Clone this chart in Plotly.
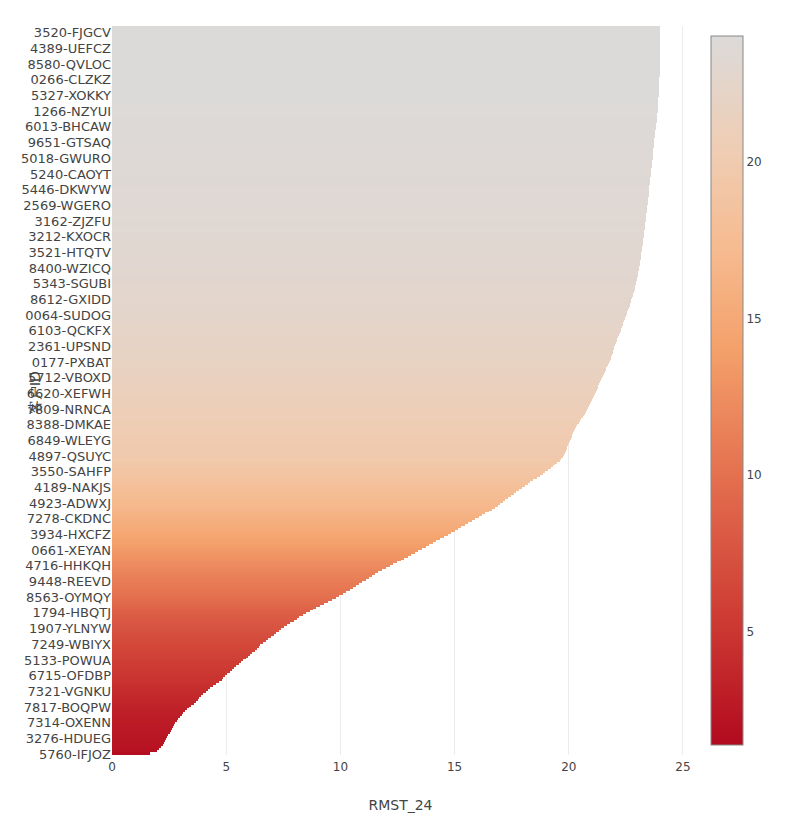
import plotly.graph_objects as go

# RMST_24 values, sorted, bottom bar first (read from the silhouette)
rmst = [
    1.65, 1.65, 1.95, 2.05, 2.15, 2.22, 2.28, 2.33, 2.37, 2.4,
    2.46, 2.52, 2.57, 2.62, 2.67, 2.72, 2.78, 2.84, 2.9, 2.97,
    3.05, 3.12, 3.2, 3.27, 3.35, 3.47, 3.6, 3.67, 3.75, 3.82,
    3.9, 4.0, 4.1, 4.2, 4.3, 4.42, 4.55, 4.68, 4.8, 4.88,
    4.95, 5.05, 5.15, 5.25, 5.35, 5.45, 5.55, 5.65, 5.75, 5.85,
    5.95, 6.05, 6.15, 6.25, 6.35, 6.42, 6.5, 6.62, 6.75, 6.85,
    6.95, 7.08, 7.2, 7.3, 7.4, 7.52, 7.65, 7.8, 7.95, 8.08,
    8.2, 8.35, 8.5, 8.65, 8.8, 8.95, 9.1, 9.28, 9.45, 9.62,
    9.8, 9.95, 10.1, 10.25, 10.4, 10.55, 10.7, 10.82, 10.95, 11.1,
    11.25, 11.38, 11.5, 11.65, 11.8, 11.98, 12.15, 12.32, 12.5, 12.65,
    12.8, 12.95, 13.1, 13.25, 13.4, 13.58, 13.75, 13.9, 14.05, 14.2,
    14.35, 14.52, 14.7, 14.85, 15.0, 15.15, 15.3, 15.45, 15.6, 15.75,
    15.9, 16.05, 16.2, 16.35, 16.5, 16.62, 16.75, 16.88, 17.0, 17.1,
    17.2, 17.32, 17.45, 17.58, 17.7, 17.82, 17.95, 18.08, 18.2, 18.32,
    18.45, 18.6, 18.75, 18.85, 18.95, 19.08, 19.2, 19.3, 19.4, 19.5,
    19.6, 19.68, 19.75, 19.79, 19.83, 19.87, 19.9, 19.94, 19.97, 20.01,
    20.05, 20.08, 20.12, 20.16, 20.2, 20.24, 20.28, 20.33, 20.38, 20.44,
    20.5, 20.55, 20.6, 20.65, 20.7, 20.75, 20.8, 20.84, 20.88, 20.92,
    20.96, 21.0, 21.05, 21.09, 21.13, 21.17, 21.22, 21.26, 21.3, 21.34,
    21.38, 21.41, 21.45, 21.49, 21.53, 21.57, 21.61, 21.64, 21.68, 21.72,
    21.76, 21.8, 21.83, 21.86, 21.89, 21.92, 21.95, 21.97, 22.0, 22.03,
    22.06, 22.1, 22.13, 22.17, 22.2, 22.24, 22.27, 22.3, 22.33, 22.36,
    22.39, 22.42, 22.45, 22.48, 22.51, 22.54, 22.57, 22.6, 22.63, 22.66,
    22.68, 22.71, 22.74, 22.77, 22.8, 22.83, 22.85, 22.88, 22.9, 22.92,
    22.94, 22.96, 22.98, 23.0, 23.01, 23.03, 23.04, 23.06, 23.07, 23.09,
    23.1, 23.12, 23.13, 23.14, 23.15, 23.17, 23.18, 23.19, 23.2, 23.22,
    23.23, 23.24, 23.25, 23.27, 23.28, 23.29, 23.3, 23.31, 23.32, 23.33,
    23.34, 23.35, 23.36, 23.37, 23.38, 23.39, 23.4, 23.41, 23.42, 23.43,
    23.44, 23.45, 23.46, 23.47, 23.48, 23.49, 23.5, 23.5, 23.51, 23.52,
    23.53, 23.54, 23.55, 23.56, 23.57, 23.58, 23.59, 23.6, 23.61, 23.62,
    23.63, 23.64, 23.65, 23.66, 23.67, 23.67, 23.68, 23.69, 23.7, 23.7,
    23.71, 23.72, 23.73, 23.74, 23.75, 23.76, 23.77, 23.78, 23.79, 23.8,
    23.81, 23.82, 23.83, 23.84, 23.85, 23.86, 23.87, 23.88, 23.89, 23.89,
    23.9, 23.9, 23.91, 23.91, 23.92, 23.92, 23.93, 23.93, 23.94, 23.94,
    23.95, 23.95, 23.96, 23.96, 23.97, 23.97, 23.98, 23.98, 23.98, 23.98,
    23.99, 23.99, 24.0, 24.0, 24.0, 24.0, 24.0, 24.0, 24.0, 24.0,
    24.0, 24.0, 24.0, 24.0, 24.0, 24.0, 24.0, 24.0, 24.0, 24.0,
    24.0, 24.0,
]

# visible customer-ID tick labels, bottom to top
tick_labels = [
    "5760-IFJOZ", "3276-HDUEG", "7314-OXENN", "7817-BOQPW", "7321-VGNKU",
    "6715-OFDBP", "5133-POWUA", "7249-WBIYX", "1907-YLNYW", "1794-HBQTJ",
    "8563-OYMQY", "9448-REEVD", "4716-HHKQH", "0661-XEYAN", "3934-HXCFZ",
    "7278-CKDNC", "4923-ADWXJ", "4189-NAKJS", "3550-SAHFP", "4897-QSUYC",
    "6849-WLEYG", "8388-DMKAE", "7809-NRNCA", "6620-XEFWH", "5712-VBOXD",
    "0177-PXBAT", "2361-UPSND", "6103-QCKFX", "0064-SUDOG", "8612-GXIDD",
    "5343-SGUBI", "8400-WZICQ", "3521-HTQTV", "3212-KXOCR", "3162-ZJZFU",
    "2569-WGERO", "5446-DKWYW", "5240-CAOYT", "5018-GWURO", "9651-GTSAQ",
    "6013-BHCAW", "1266-NZYUI", "5327-XOKKY", "0266-CLZKZ", "8580-QVLOC",
    "4389-UEFCZ", "3520-FJGCV",
]
tick_step = 8

x_title = "RMST_24"
y_title = "客户ID"

n = len(rmst)
positions = list(range(n))
tickvals = [i * tick_step for i in range(len(tick_labels))]

colorscale = [
    [0.0, "#b20a1f"],
    [0.16, "#cb3631"],
    [0.38, "#e4704f"],
    [0.56, "#f4a16b"],
    [0.70, "#f6bb90"],
    [0.84, "#efcdb4"],
    [1.0, "#dcdad9"],
]

text_color = "#444444"
font_family = "DejaVu Sans"

fig = go.Figure(
    go.Bar(
        x=rmst,
        y=positions,
        orientation="h",
        marker=dict(
            color=rmst,
            colorscale=colorscale,
            cmin=1.4,
            cmax=24,
            line=dict(width=0),
            showscale=True,
            colorbar=dict(
                thickness=32,
                outlinewidth=1,
                outlinecolor="#888888",
                tickfont=dict(size=12, color=text_color, family=font_family),
                ticks="",
                tickvals=[5, 10, 15, 20],
            ),
        ),
        hovertemplate="%{x}<extra></extra>",
    )
)

fig.update_layout(
    width=800,
    height=826,
    margin=dict(l=104, r=119, t=18, b=79, autoexpand=False),
    paper_bgcolor="white",
    plot_bgcolor="white",
    bargap=0,
    showlegend=False,
    font=dict(family=font_family, color=text_color, size=12),
    xaxis=dict(
        title=dict(text=x_title, font=dict(size=14, color=text_color), standoff=26),
        showgrid=True,
        gridcolor="#ececec",
        gridwidth=1,
        zeroline=False,
        showline=False,
        ticks="outside",
        ticklen=1,
        tickcolor="rgba(0,0,0,0)",
        tickfont=dict(size=12, color=text_color),
        automargin=False,
    ),
    yaxis=dict(
        tickmode="array",
        tickvals=tickvals,
        ticktext=tick_labels,
        range=[-0.5, n - 0.5],
        showgrid=False,
        zeroline=False,
        showline=False,
        tickfont=dict(size=13, color=text_color),
        automargin=False,
    ),
    annotations=[
        dict(
            text=y_title,
            xref="paper",
            yref="paper",
            x=-0.1334,
            y=0.4966,
            xanchor="center",
            yanchor="middle",
            textangle=-90,
            showarrow=False,
            font=dict(size=14, color=text_color, family=font_family),
        )
    ],
)

fig.write_html("out.html")
